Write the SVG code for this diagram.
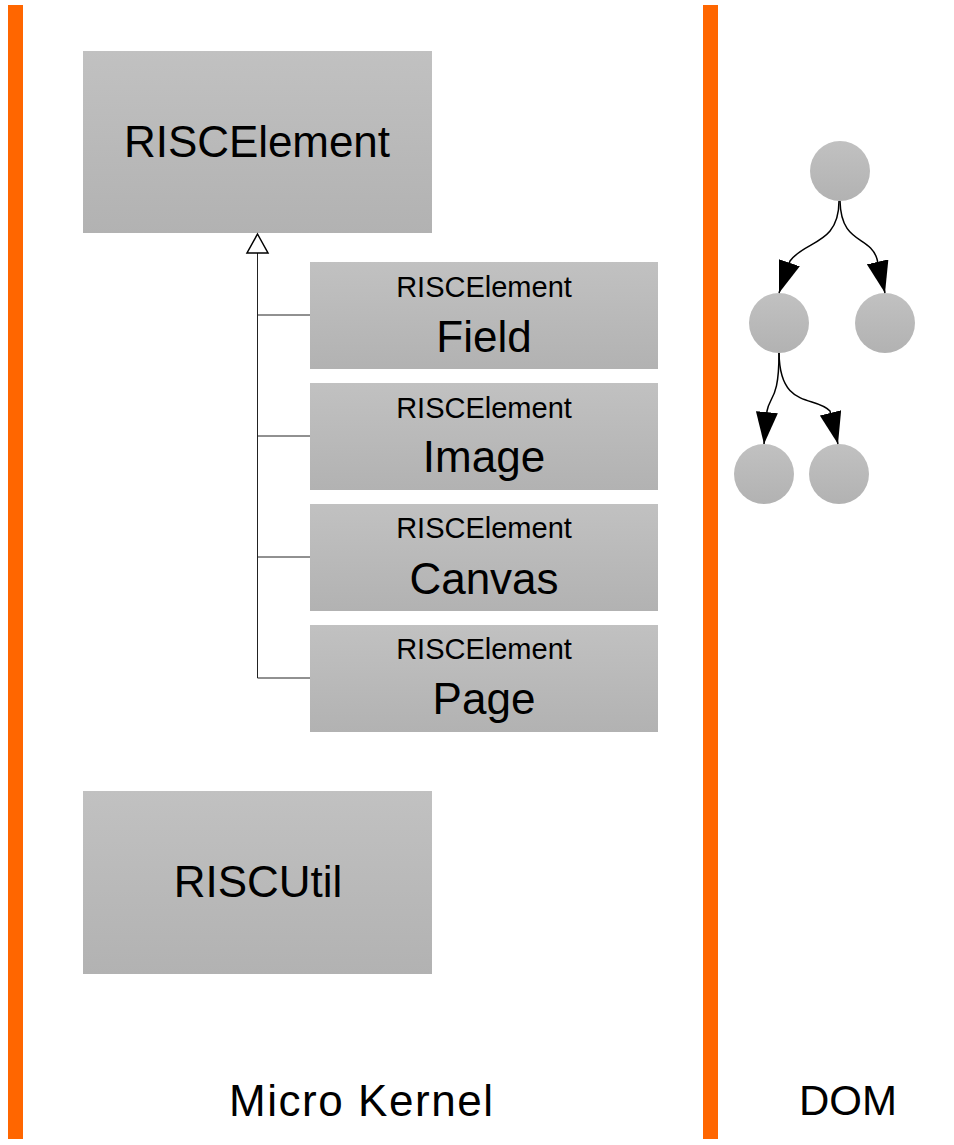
<svg xmlns="http://www.w3.org/2000/svg" width="954" height="1145" viewBox="0 0 954 1145">
<style>
.bar{fill:#ff6600}
.box{fill:url(#g)}
.t{font-family:"Liberation Sans",Arial,sans-serif;fill:#000;text-anchor:middle}
.big{font-size:44px}
.small{font-size:29px}
.edge{fill:none;stroke:#000;stroke-width:1.5}
.inh{fill:none;stroke:#222;stroke-width:1}
</style>
<defs>
<linearGradient id="g" x1="0" y1="0" x2="0" y2="1">
<stop offset="0" stop-color="#c1c1c1"/>
<stop offset="1" stop-color="#b2b2b2"/>
</linearGradient>
<marker id="arr" viewBox="0 0 32 22" refX="32" refY="11" markerWidth="32" markerHeight="22" markerUnits="userSpaceOnUse" orient="auto">
<path d="M0,0 L32,11 L0,22 z" fill="#000"/>
</marker>
</defs>
<rect width="954" height="1145" fill="#fff"/>
<g id="lanes">
<rect class="bar" x="8" y="5" width="15" height="1134"/>
<rect class="bar" x="703" y="5" width="15" height="1134"/>
<text class="t big" x="361" y="1116" textLength="264">Micro Kernel</text>
<text class="t" x="848" y="1115" font-size="42">DOM</text>
</g>
<g id="RISCElement">
<rect class="box" x="83" y="51" width="349" height="182"/>
<text class="t big" x="257" y="157" textLength="266">RISCElement</text>
</g>
<g id="RISCElementField">
<rect class="box" x="310" y="262" width="348" height="107"/>
<text class="t small" x="484" y="297">RISCElement</text>
<text class="t big" x="484" y="352">Field</text>
</g>
<g id="RISCElementImage">
<rect class="box" x="310" y="383" width="348" height="107"/>
<text class="t small" x="484" y="418">RISCElement</text>
<text class="t big" x="484" y="472">Image</text>
</g>
<g id="RISCElementCanvas">
<rect class="box" x="310" y="504" width="348" height="107"/>
<text class="t small" x="484" y="538">RISCElement</text>
<text class="t big" x="484" y="594">Canvas</text>
</g>
<g id="RISCElementPage">
<rect class="box" x="310" y="625" width="348" height="107"/>
<text class="t small" x="484" y="659">RISCElement</text>
<text class="t big" x="484" y="714">Page</text>
</g>
<g id="RISCUtil">
<rect class="box" x="83" y="791" width="349" height="183"/>
<text class="t big" x="258" y="897">RISCUtil</text>
</g>
<g id="dom-root"><circle class="box" cx="840" cy="171" r="30"/></g>
<g id="dom-a"><circle class="box" cx="779" cy="323" r="30"/></g>
<g id="dom-b"><circle class="box" cx="885" cy="323" r="30"/></g>
<g id="dom-c"><circle class="box" cx="764" cy="474" r="30"/></g>
<g id="dom-d"><circle class="box" cx="839" cy="474" r="30"/></g>
<g id="connectors">
<path class="inh" d="M257.5,253 V678 M257.5,315 H310 M257.5,436 H310 M257.5,557 H310 M257.5,678 H310"/>
<path d="M257.5,234 L268,253 L247,253 z" fill="#fff" stroke="#000" stroke-width="1.5"/>
<path class="edge" marker-end="url(#arr)" d="M839,201 C839,245 805,240 790,261 L779,293"/>
<path class="edge" marker-end="url(#arr)" d="M840,201 C841,245 870,235 877,259 L885,293"/>
<path class="edge" marker-end="url(#arr)" d="M779,353 C779,400 770,395 767,411 L764,444"/>
<path class="edge" marker-end="url(#arr)" d="M779,353 C780,410 815,395 830,411 L838,444"/>
</g>
</svg>
